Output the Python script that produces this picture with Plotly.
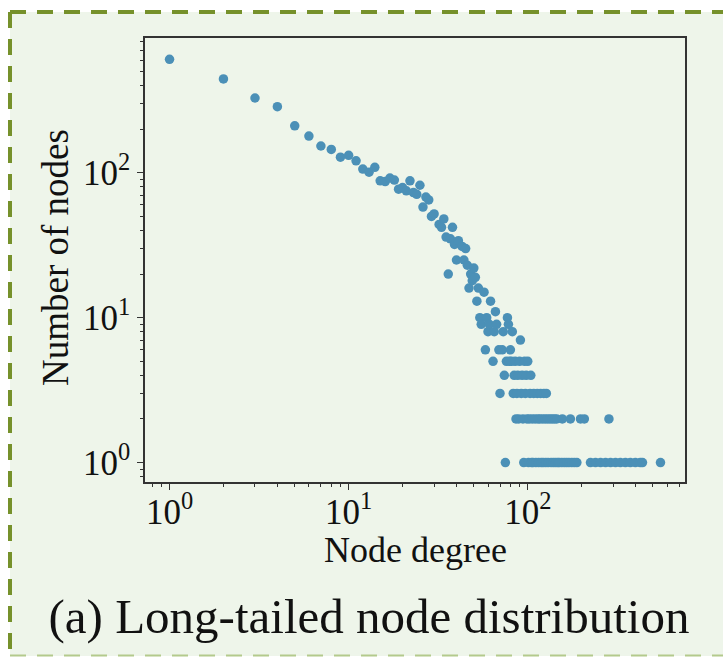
import numpy as np
import plotly.graph_objects as go

# ---- data (degree -> number of nodes) ----
degree = [1, 2, 3, 4, 5, 6, 7, 8, 9, 10, 11, 12, 13, 14, 15, 16, 17, 18, 19, 20,
          21, 22, 23, 24, 25, 26, 27, 28, 29, 30, 32, 33, 34, 35, 36, 37, 38, 39, 40, 41,
          43, 44, 45, 46, 47, 48, 49, 50, 51, 52, 53, 54, 55, 57, 58, 59, 60, 61, 62, 64,
          65, 66, 67, 69, 70, 72, 73, 74, 75, 76, 77, 78, 79, 80, 81, 82, 83, 84, 85, 86,
          87, 88, 89, 90, 91, 92, 93, 94, 95, 96, 97, 98, 99, 100, 101, 102, 103, 104, 105, 106,
          107, 108, 110, 111, 113, 114, 115, 117, 118, 119, 121, 122, 123, 125, 126, 127, 129, 130, 133, 135,
          137, 139, 141, 143, 145, 147, 150, 155, 156, 160, 165, 170, 173, 176, 182, 188, 197, 207, 224, 239,
          255, 272, 284, 290, 309, 329, 351, 374, 399, 425, 437, 551]
nodes = [607, 444, 328, 286, 211, 179, 153, 145, 128, 132, 121, 106, 101, 109, 88, 87, 92, 89, 77, 79,
         75, 88, 73, 71, 82, 58, 68, 65, 50, 52, 44, 42, 48, 36, 20, 35, 42, 32, 25, 34,
         31, 25, 30, 23, 16, 20, 18, 22, 19, 13, 16, 10, 9, 15, 6, 10, 8, 9, 13, 5,
         8, 11, 9, 6, 3, 6, 8, 4, 1, 5, 10, 9, 5, 6, 5, 8, 3, 4, 5, 2,
         3, 4, 2, 5, 7, 3, 4, 2, 1, 5, 3, 4, 2, 5, 1, 2, 3, 4, 1, 2,
         1, 3, 2, 1, 3, 2, 1, 2, 3, 1, 2, 1, 3, 2, 1, 3, 2, 1, 2, 1,
         2, 1, 2, 1, 2, 1, 1, 1, 2, 1, 1, 1, 2, 1, 1, 1, 2, 2, 1, 1,
         1, 1, 2, 1, 1, 1, 1, 1, 1, 1, 1, 1]

tick_vals = [1, 10, 100]
tick_text = ["10<sup>0</sup>", "10<sup>1</sup>", "10<sup>2</sup>"]

x_title = "Node degree"
y_title = "Number of nodes"
caption = "(a) Long-tailed node distribution"

# ---- styling ----
FONT = "Liberation Serif"
DOT = "#4b90b7"
BG = "#eef5ea"
BORDER = "#76912b"
AXC = "#333333"
TXT = "#111111"

minor_vals = [m * 10 ** e for e in range(-1, 3) for m in range(2, 10)]

fig = go.Figure()
fig.add_trace(go.Scatter(
    x=degree, y=nodes, mode="markers",
    marker=dict(color=DOT, size=9.5, line=dict(width=0)),
    showlegend=False, hoverinfo="x+y",
))

axis_common = dict(
    type="log", showgrid=False, zeroline=False,
    showline=True, linecolor=AXC, linewidth=1.5, mirror=True,
    ticks="outside", ticklen=6, tickwidth=1.2, tickcolor=AXC,
    tickfont=dict(family=FONT, size=35, color=TXT),
    tickmode="array", tickvals=tick_vals, ticktext=tick_text,
    minor=dict(ticks="outside", ticklen=3, tickwidth=1, tickcolor=AXC,
               tickmode="array", tickvals=minor_vals, showgrid=False),
)

fig.update_xaxes(**axis_common, range=[-0.137, 2.878], ticklabelstandoff=-8)
fig.update_yaxes(**axis_common, range=[-0.134, 2.930])

L, R, T, B = 145, 38, 38, 175
W, H = 723, 657
pw, ph = W - L - R, H - T - B

def px2paper_x(px):
    return (px - L) / pw

def px2paper_y(py):
    return (H - B - py) / ph

fig.update_layout(
    width=W, height=H,
    margin=dict(l=L, r=R, t=T, b=B, pad=0),
    paper_bgcolor="white",
    plot_bgcolor="rgba(0,0,0,0)",
    font=dict(family=FONT, color=TXT),
    title=dict(text=caption, x=369 / W, xanchor="center", y=1 - 616 / H, yanchor="middle",
               yref="container", xref="container",
               font=dict(family=FONT, size=49, color=TXT)),
    annotations=[
        dict(text=x_title, xref="paper", yref="paper", x=px2paper_x(415), y=px2paper_y(550),
             xanchor="center", yanchor="middle", showarrow=False,
             font=dict(family=FONT, size=36, color=TXT)),
        dict(text=y_title, xref="paper", yref="paper", x=px2paper_x(55), y=px2paper_y(258),
             xanchor="center", yanchor="middle", showarrow=False, textangle=-90,
             font=dict(family=FONT, size=37, color=TXT)),
    ],
    shapes=[
        dict(type="rect", xref="paper", yref="paper", layer="below",
             x0=px2paper_x(10), x1=px2paper_x(740), y0=px2paper_y(656), y1=px2paper_y(12),
             fillcolor=BG, line=dict(width=0)),
        dict(type="line", xref="paper", yref="paper", layer="above",
             x0=px2paper_x(10), x1=px2paper_x(740), y0=px2paper_y(12), y1=px2paper_y(12),
             line=dict(color=BORDER, width=4, dash="16px,11px")),
        dict(type="line", xref="paper", yref="paper", layer="above",
             x0=px2paper_x(10), x1=px2paper_x(10), y0=px2paper_y(12), y1=px2paper_y(660),
             line=dict(color=BORDER, width=4, dash="16px,11px")),
        dict(type="line", xref="paper", yref="paper", layer="above",
             x0=px2paper_x(10), x1=px2paper_x(740), y0=px2paper_y(655.5), y1=px2paper_y(655.5),
             line=dict(color="#b3ca8c", width=2, dash="16px,11px")),
    ],
)

fig.write_html("out.html")
